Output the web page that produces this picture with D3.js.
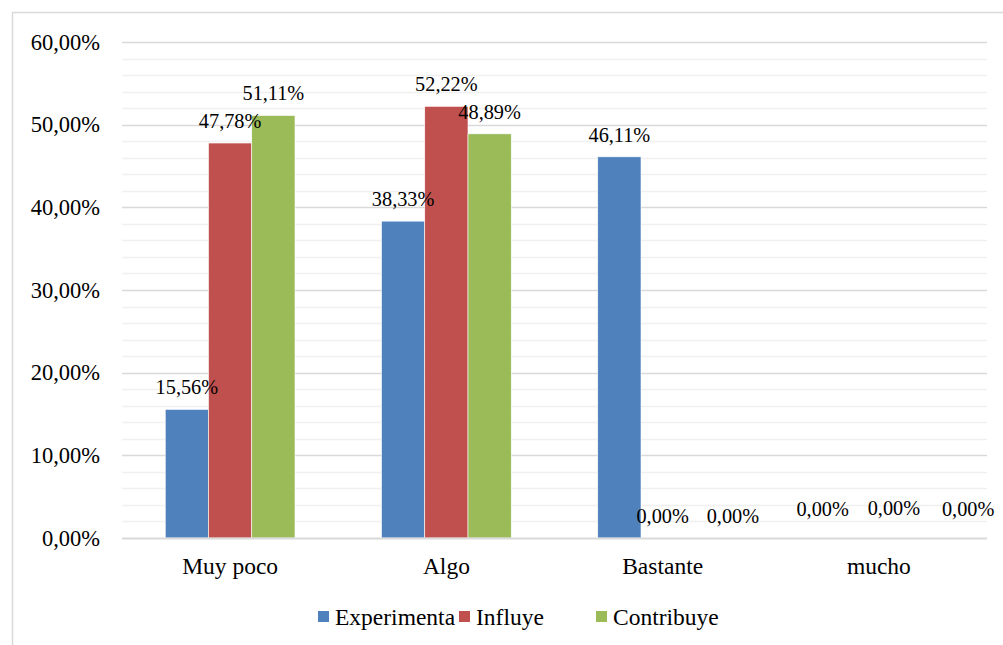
<!DOCTYPE html>
<html><head><meta charset="utf-8">
<script src="https://cdn.jsdelivr.net/npm/d3@7"></script>
<style>body{margin:0;background:#fff}svg{display:block}</style>
</head><body><svg id="c" width="1003" height="645"></svg>
<script>
const categories = ["Muy poco", "Algo", "Bastante", "mucho"];
const seriesNames = ["Experimenta", "Influye", "Contribuye"];
const experimenta = [15.56, 38.33, 46.11, 0];
const influye = [47.78, 52.22, 0, 0];
const contribuye = [51.11, 48.89, 0, 0];
const yTicks = [0, 10, 20, 30, 40, 50, 60];
const colors = ["#4F81BD", "#C0504D", "#9BBB59"];
const FONT = "'Liberation Serif'";
// label nudges (dx, dy) mimicking the original's label placement
const labelNudge = {
  "2-1": [0, 0], "2-2": [27, 0],
  "3-0": [-13, -7], "3-1": [15, -8], "3-2": [46, -7]
};

const series = [experimenta, influye, contribuye];
const svg = d3.select("#c");
const W = 1003, H = 645;
const m = {left: 122, right: 16, top: 42, bottom: 107};

svg.append("rect").attr("x", 12.5).attr("y", 12.5).attr("width", W + 10).attr("height", H + 10)
  .attr("fill", "none").attr("stroke", "#d9d9d9").attr("stroke-width", 1.5);

const x0 = d3.scaleBand().domain(categories).range([m.left, W - m.right]).paddingInner(0.4).paddingOuter(0.2);
const x1 = d3.scaleBand().domain(seriesNames).range([0, x0.bandwidth()]).padding(0);
const y = d3.scaleLinear().domain([0, 60]).range([H - m.bottom, m.top]);

const minor = d3.range(0, 61, 2).filter(v => v % 10 !== 0);
svg.append("g").selectAll("line").data(minor).join("line")
  .attr("x1", m.left).attr("x2", W - m.right)
  .attr("y1", d => Math.round(y(d)) + 0.5).attr("y2", d => Math.round(y(d)) + 0.5)
  .attr("stroke", "#f0f0f0").attr("stroke-width", 1.5);
svg.append("g").selectAll("line").data(yTicks.filter(v => v > 0)).join("line")
  .attr("x1", m.left).attr("x2", W - m.right)
  .attr("y1", d => Math.round(y(d)) + 0.5).attr("y2", d => Math.round(y(d)) + 0.5)
  .attr("stroke", "#d9d9d9").attr("stroke-width", 1.5);

const fmt = v => v.toFixed(2).replace(".", ",") + "%";

function serif(sel, size) {
  sel.attr("font-family", null).style("font-family", FONT).style("font-size", size + "px").attr("fill", "#000");
}

const yAxis = svg.append("g").attr("transform", `translate(${m.left},0)`)
  .call(d3.axisLeft(y).tickValues(yTicks).tickSize(0).tickPadding(22).tickFormat(fmt));
yAxis.attr("font-family", null).attr("font-size", null);
yAxis.select(".domain").remove();
serif(yAxis.selectAll("text"), 22.5);

const groups = svg.append("g").selectAll("g").data(categories).join("g")
  .attr("transform", d => `translate(${x0(d)},0)`);
groups.each(function(cat, ci) {
  const g = d3.select(this);
  seriesNames.forEach((s, si) => {
    const v = series[si][ci];
    if (v > 0) {
      g.append("rect").attr("x", x1(s)).attr("width", x1.bandwidth())
        .attr("y", y(v)).attr("height", y(0) - y(v))
        .attr("fill", colors[si]).attr("stroke", "#fff").attr("stroke-width", 0.6);
    }
  });
});

svg.append("line").attr("x1", m.left).attr("x2", W - m.right)
  .attr("y1", y(0) + 0.5).attr("y2", y(0) + 0.5).attr("stroke", "#d9d9d9").attr("stroke-width", 2);

const xAxis = svg.append("g").attr("transform", `translate(0,${y(0)})`)
  .call(d3.axisBottom(x0).tickSize(0).tickPadding(19));
xAxis.attr("font-family", null).attr("font-size", null);
xAxis.select(".domain").remove();
serif(xAxis.selectAll("text"), 23.5);

const lab = svg.append("g");
categories.forEach((cat, ci) => {
  seriesNames.forEach((s, si) => {
    const v = series[si][ci];
    const n = labelNudge[ci + "-" + si] || [0, 0];
    const t = lab.append("text")
      .attr("x", x0(cat) + x1(s) + x1.bandwidth() / 2 + n[0])
      .attr("y", y(v) - 15 + n[1])
      .attr("text-anchor", "middle")
      .text(fmt(v));
    serif(t, 20.3);
  });
});

const legX = [318, 459, 596];
const leg = svg.append("g");
seriesNames.forEach((s, i) => {
  const g = leg.append("g").attr("transform", `translate(${legX[i]},617)`);
  g.append("rect").attr("x", 0).attr("y", -6).attr("width", 11).attr("height", 11).attr("fill", colors[i]);
  const t = g.append("text").attr("x", 17).attr("y", 0).attr("dy", "0.35em").text(s);
  serif(t, 23.5);
});
</script></body></html>
